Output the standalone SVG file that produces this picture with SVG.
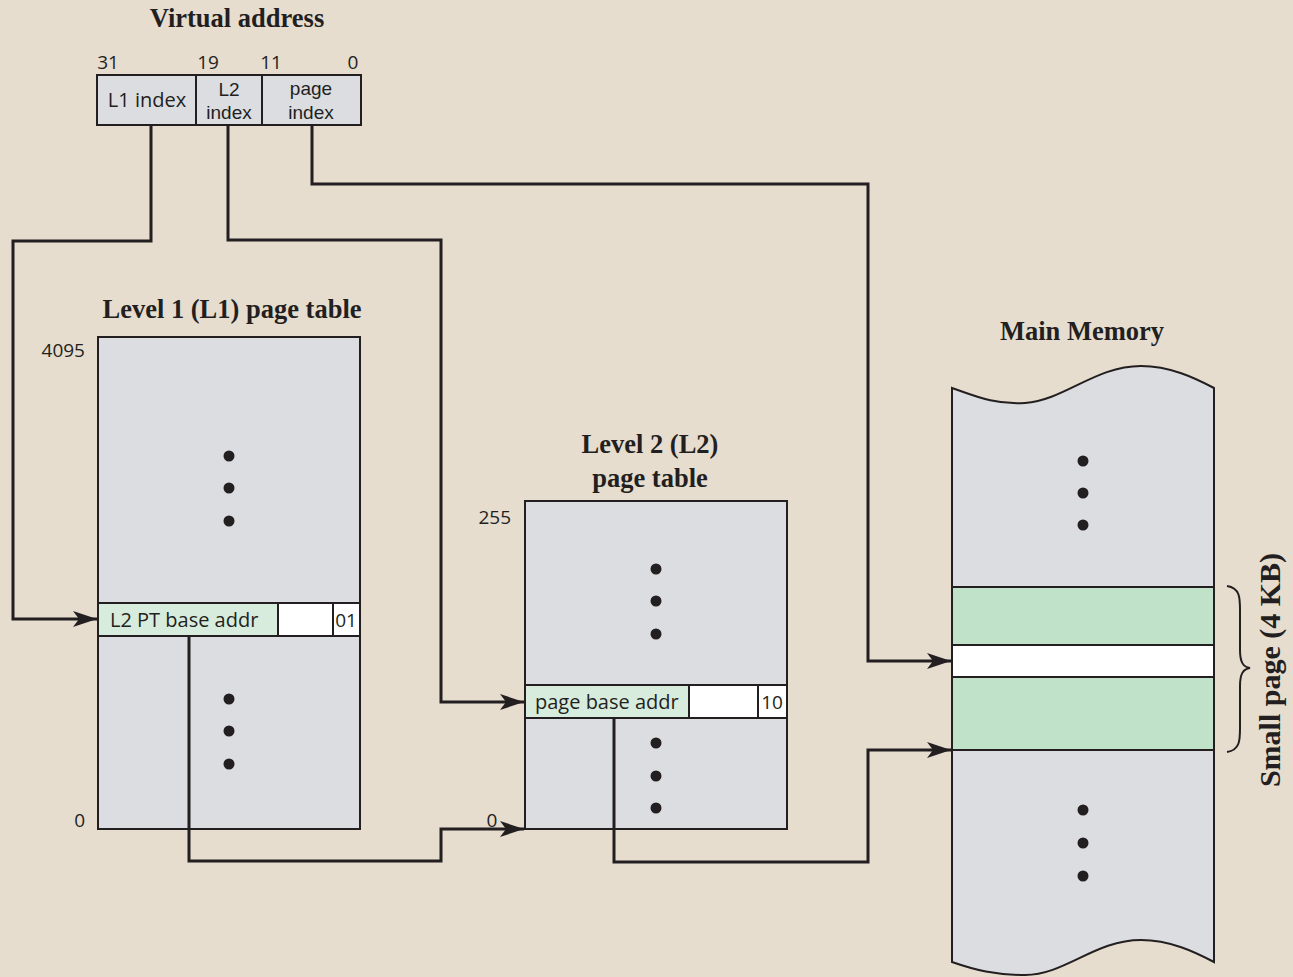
<svg xmlns="http://www.w3.org/2000/svg" width="1293" height="977" viewBox="0 0 1293 977">
<defs>
<marker id="arr" viewBox="0 0 24 16" refX="24" refY="8" markerWidth="24" markerHeight="16" markerUnits="userSpaceOnUse" orient="auto">
<path d="M0,0 L24,8 L0,16 L6,8 Z" fill="#231f20"/>
</marker>
</defs>
<style>
.box{fill:#dcdde0;stroke:#231f20;stroke-width:2}
.ent{fill:#d8ecdd;stroke:#231f20;stroke-width:2}
.wh{fill:#ffffff;stroke:#231f20;stroke-width:2}
.mg{fill:#bfe2c9;stroke:#231f20;stroke-width:2}
.ln{fill:none;stroke:#231f20;stroke-width:3}
.t{font-family:"Open Sans","Liberation Sans",sans-serif;font-size:20px;fill:#231f20}
.t2{font-family:"Liberation Sans",sans-serif;font-size:19px;fill:#231f20}
.s{font-family:"Open Sans","Liberation Sans",sans-serif;font-size:19px;fill:#231f20}
.h{font-family:"Liberation Serif",serif;font-weight:bold;font-size:26.5px;fill:#231f20}
.d{fill:#231f20}
</style>
<rect width="1293" height="977" fill="#e6ddcf"/>

<g id="virtual-address">
<text class="h" x="237" y="27" text-anchor="middle">Virtual address</text>
<rect class="box" x="97" y="75" width="264" height="50"/>
<line x1="196" y1="75" x2="196" y2="125" stroke="#231f20" stroke-width="2"/>
<line x1="262" y1="75" x2="262" y2="125" stroke="#231f20" stroke-width="2"/>
<text class="s" x="108" y="69" text-anchor="middle">31</text>
<text class="s" x="208" y="69" text-anchor="middle">19</text>
<text class="s" x="271" y="69" text-anchor="middle">11</text>
<text class="s" x="353" y="69" text-anchor="middle">0</text>
<text class="t" x="147" y="107" text-anchor="middle">L1 index</text>
<text class="t2" x="229" y="96" text-anchor="middle">L2</text>
<text class="t2" x="229" y="119" text-anchor="middle">index</text>
<text class="t2" x="311" y="95" text-anchor="middle">page</text>
<text class="t2" x="311" y="119" text-anchor="middle">index</text>
</g>

<g id="l1-table">
<text class="h" x="232" y="318" text-anchor="middle">Level 1 (L1) page table</text>
<rect class="box" x="98" y="337" width="262" height="492"/>
<rect class="ent" x="98" y="603" width="180" height="33"/>
<rect class="wh" x="278" y="603" width="55" height="33"/>
<rect class="wh" x="333" y="603" width="27" height="33"/>
<text class="t" x="110" y="627">L2 PT base addr</text>
<text class="s" x="346" y="627" text-anchor="middle">01</text>
<text class="s" x="85" y="357" text-anchor="end">4095</text>
<text class="s" x="85" y="827" text-anchor="end">0</text>
<circle class="d" cx="229" cy="456" r="5.5"/>
<circle class="d" cx="229" cy="488" r="5.5"/>
<circle class="d" cx="229" cy="521" r="5.5"/>
<circle class="d" cx="229" cy="699" r="5.5"/>
<circle class="d" cx="229" cy="731" r="5.5"/>
<circle class="d" cx="229" cy="764" r="5.5"/>
</g>

<g id="l2-table">
<text class="h" x="650" y="453" text-anchor="middle">Level 2 (L2)</text>
<text class="h" x="650" y="487" text-anchor="middle">page table</text>
<rect class="box" x="525" y="501" width="262" height="328"/>
<rect class="ent" x="525" y="685" width="164" height="33"/>
<rect class="wh" x="689" y="685" width="69" height="33"/>
<rect class="wh" x="758" y="685" width="29" height="33"/>
<text class="t" x="535" y="709">page base addr</text>
<text class="s" x="772" y="709" text-anchor="middle">10</text>
<text class="s" x="511" y="524" text-anchor="end">255</text>
<text class="s" x="492" y="827" text-anchor="middle">0</text>
<circle class="d" cx="656" cy="569" r="5.5"/>
<circle class="d" cx="656" cy="601" r="5.5"/>
<circle class="d" cx="656" cy="634" r="5.5"/>
<circle class="d" cx="656" cy="743" r="5.5"/>
<circle class="d" cx="656" cy="776" r="5.5"/>
<circle class="d" cx="656" cy="808" r="5.5"/>
</g>

<g id="main-memory">
<text class="h" x="1082" y="340" text-anchor="middle">Main Memory</text>
<path class="box" d="M952,388 C975,396 995,405 1025,403 C1065,400 1095,366 1141,366 C1170,366 1195,378 1214,388 L1214,962 C1195,952 1170,940 1141,940 C1095,940 1065,975 1025,975 C995,975 975,970 952,962 Z"/>
<rect class="mg" x="952" y="587" width="262" height="58"/>
<rect class="wh" x="952" y="645" width="262" height="32"/>
<rect class="mg" x="952" y="677" width="262" height="73"/>
<circle class="d" cx="1083" cy="461" r="5.5"/>
<circle class="d" cx="1083" cy="493" r="5.5"/>
<circle class="d" cx="1083" cy="525" r="5.5"/>
<circle class="d" cx="1083" cy="810" r="5.5"/>
<circle class="d" cx="1083" cy="843" r="5.5"/>
<circle class="d" cx="1083" cy="876" r="5.5"/>
<path d="M1227,586 C1240,588 1240,598 1240,610 L1240,650 C1240,662 1243,667 1250,668 C1243,669 1240,674 1240,686 L1240,728 C1240,740 1240,750 1227,752" fill="none" stroke="#231f20" stroke-width="2"/>
<text class="h" transform="translate(1280,670) rotate(-90)" text-anchor="middle" style="font-size:30px">Small page (4 KB)</text>
</g>

<g id="connectors">
<path class="ln" d="M151,125 L151,241 L13,241 L13,619 L97,619" marker-end="url(#arr)"/>
<path class="ln" d="M228,125 L228,240 L441,240 L441,702 L524,702" marker-end="url(#arr)"/>
<path class="ln" d="M312,125 L312,184 L868,184 L868,661 L951,661" marker-end="url(#arr)"/>
<path class="ln" d="M189,636 L189,861 L441,861 L441,829 L524,829" marker-end="url(#arr)"/>
<path class="ln" d="M614,718 L614,862 L868,862 L868,750 L951,750" marker-end="url(#arr)"/>
</g>
</svg>
